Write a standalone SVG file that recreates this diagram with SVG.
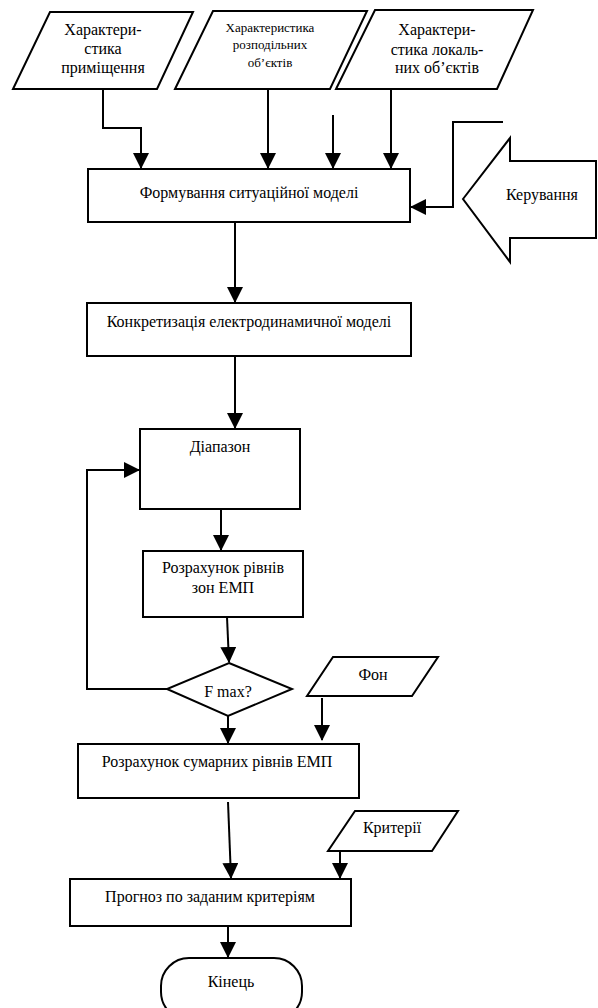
<svg xmlns="http://www.w3.org/2000/svg" width="598" height="1008" viewBox="0 0 598 1008">
<style>
.s{fill:#fff;stroke:#000;stroke-width:2}
.c{fill:none;stroke:#000;stroke-width:2;marker-end:url(#ah)}
text{font-family:"Liberation Serif","Times New Roman",serif;font-size:16px;fill:#000;text-anchor:middle}
.sm{font-size:13px}
</style>
<defs>
<marker id="ah" markerUnits="userSpaceOnUse" markerWidth="16" markerHeight="16" refX="15" refY="8" orient="auto">
<path d="M0,0 L16,8 L0,16 z" fill="#000"/>
</marker>
</defs>
<rect width="598" height="1008" fill="#fff"/>
<g id="connectors">
<path class="c" d="M103,89 V128 H141 V168"/>
<path class="c" d="M268,89 V168"/>
<path class="c" d="M333,115 V168"/>
<path class="c" d="M391,89 V168"/>
<path class="c" d="M503,122 H453 V207 H411"/>
<path class="c" d="M235,222 V302"/>
<path class="c" d="M235,356 V428"/>
<path class="c" d="M221,509 V550"/>
<path class="c" d="M227,617 L229,662"/>
<path class="c" d="M167,689 H87 V470 H139"/>
<path class="c" d="M228,716 V743"/>
<path class="c" d="M322,698 V740"/>
<path class="c" d="M228,802 L231,878"/>
<path class="c" d="M340,851 V878"/>
<path class="c" d="M228,926 V957"/>
</g>
<g id="n-prym">
<polygon class="s" points="50,12 193,12 157,89 13,89"/>
<text x="103" y="35">Характери-</text>
<text x="103" y="54">стика</text>
<text x="103" y="73">приміщення</text>
</g>
<g id="n-rozp">
<polygon class="s" points="213,11 367,11 330,89 175,89"/>
<text class="sm" x="270" y="32">Характеристика</text>
<text class="sm" x="270" y="49">розподільних</text>
<text class="sm" x="270" y="67">об’єктів</text>
</g>
<g id="n-lok">
<polygon class="s" points="375,10 533,10 497,89 336,89"/>
<text x="437" y="35">Характери-</text>
<text x="437" y="55">стика локаль-</text>
<text x="437" y="73">них об’єктів</text>
</g>
<g id="n-keruv">
<polygon class="s" points="463,199 510,138 510,161 596,161 596,238 510,238 510,262"/>
<text x="542" y="200">Керування</text>
</g>
<g id="n-form">
<rect class="s" x="88" y="169" width="322" height="53"/>
<text x="249" y="198">Формування ситуаційної моделі</text>
</g>
<g id="n-konkr">
<rect class="s" x="87" y="303" width="324" height="53"/>
<text x="249" y="327">Конкретизація електродинамичної моделі</text>
</g>
<g id="n-diap">
<rect class="s" x="140" y="429" width="160" height="80"/>
<text x="220" y="452">Діапазон</text>
</g>
<g id="n-rozr">
<rect class="s" x="143" y="551" width="160" height="66"/>
<text x="223" y="573">Розрахунок рівнів</text>
<text x="223" y="593">зон ЕМП</text>
</g>
<g id="n-fmax">
<polygon class="s" points="229,663 292,689 228,716 167,689"/>
<text x="228" y="697">F max?</text>
</g>
<g id="n-fon">
<polygon class="s" points="333,657 438,657 412,696 307,696"/>
<text x="373" y="680">Фон</text>
</g>
<g id="n-sum">
<rect class="s" x="78" y="744" width="281" height="54"/>
<text x="217" y="767">Розрахунок сумарних рівнів ЕМП</text>
</g>
<g id="n-krit">
<polygon class="s" points="355,811 458,811 432,851 328,851"/>
<text x="392" y="833">Критерії</text>
</g>
<g id="n-progn">
<rect class="s" x="70" y="879" width="281" height="47"/>
<text x="210" y="902">Прогноз по заданим критеріям</text>
</g>
<g id="n-end">
<rect class="s" x="161" y="958" width="141" height="62" rx="28" ry="28"/>
<text x="231" y="987">Кінець</text>
</g>
</svg>
